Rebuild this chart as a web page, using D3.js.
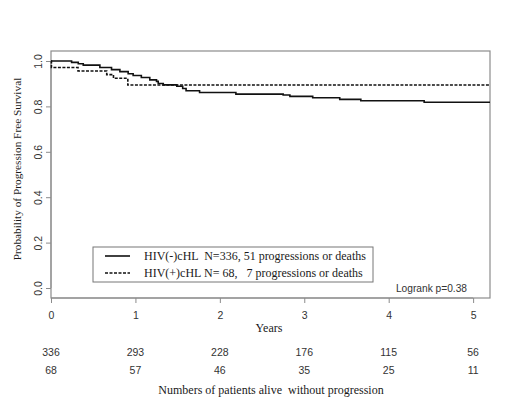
<!DOCTYPE html>
<html>
<head>
<meta charset="utf-8">
<script src="https://cdn.jsdelivr.net/npm/d3@7"></script>
<style>
  body { margin: 0; background: #fff; }
  .serif { font-family: "Liberation Serif", "Times New Roman", serif; fill: #1a1a1a; white-space: pre; }
  .sans { font-family: "Liberation Sans", Arial, sans-serif; fill: #333; }
</style>
</head>
<body>
<div id="chart"></div>
<script>
// Kaplan-Meier step points: [year, survival]
const hivNeg = [
  [0, 1.0], [0.244, 0.994], [0.323, 0.988], [0.382, 0.982], [0.579, 0.971],
  [0.717, 0.962], [0.816, 0.953], [0.914, 0.944], [0.973, 0.936], [1.07, 0.927],
  [1.17, 0.917], [1.25, 0.910], [1.27, 0.901], [1.33, 0.895], [1.49, 0.889],
  [1.56, 0.879], [1.60, 0.869], [1.76, 0.861], [2.19, 0.854], [2.75, 0.850],
  [2.83, 0.844], [3.10, 0.838], [3.42, 0.831], [3.67, 0.825], [4.42, 0.818]
];
const hivPos = [
  [0, 1.0], [0.005, 0.971], [0.32, 0.956], [0.66, 0.940], [0.74, 0.924], [0.91, 0.894]
];
const endYear = 5.2;

const xTicks = [0, 1, 2, 3, 4, 5];
const yTicks = [0, 0.2, 0.4, 0.6, 0.8, 1.0];
const atRiskNeg = [336, 293, 228, 176, 115, 56];
const atRiskPos = [68, 57, 46, 35, 25, 11];
const legendLabels = [
  "HIV(-)cHL  N=336, 51 progressions or deaths",
  "HIV(+)cHL N= 68,   7 progressions or deaths"
];

const width = 520, height = 404;
const svg = d3.select("#chart").append("svg")
  .attr("width", width).attr("height", height);

// plot region (R style box, 4% padding on y)
const plotL = 51, plotR = 490, plotT = 51, plotB = 298;
const x = d3.scaleLinear().domain([0, endYear]).range([plotL, plotR]);
const y = d3.scaleLinear().domain([-0.044, 1.044]).range([plotB, plotT]);

svg.append("rect")
  .attr("x", plotL).attr("y", plotT)
  .attr("width", plotR - plotL).attr("height", plotB - plotT)
  .attr("fill", "none").attr("stroke", "#8c8c8c").attr("stroke-width", 1.2);

// x axis
const xAxis = svg.append("g")
  .attr("transform", `translate(0,${plotB})`)
  .call(d3.axisBottom(x).tickValues(xTicks).tickFormat(d3.format("d")).tickSize(5).tickPadding(9));
xAxis.select(".domain").attr("stroke", "#8c8c8c").attr("d", `M${x(0)},0H${x(5)}`);
xAxis.selectAll(".tick line").attr("stroke", "#8c8c8c");
xAxis.selectAll("text").attr("class", "sans").attr("font-size", 10.5).attr("fill", "#333");

// y axis with rotated labels
const yAxis = svg.append("g")
  .attr("transform", `translate(${plotL},0)`)
  .call(d3.axisLeft(y).tickValues(yTicks).tickFormat(d3.format(".1f")).tickSize(5));
yAxis.select(".domain").attr("stroke", "#8c8c8c").attr("d", `M0,${y(0)}V${y(1)}`);
yAxis.selectAll(".tick line").attr("stroke", "#8c8c8c");
yAxis.selectAll("text")
  .attr("class", "sans").attr("font-size", 10.5).attr("fill", "#333")
  .attr("x", null).attr("dy", null)
  .attr("text-anchor", "middle")
  .attr("transform", "translate(-9,0) rotate(-90)");

// curves
const step = d3.line().x(d => x(d[0])).y(d => y(d[1])).curve(d3.curveStepAfter);
function withEnd(arr) { return arr.concat([[endYear, arr[arr.length - 1][1]]]); }

svg.append("path").datum(withEnd(hivPos))
  .attr("d", step).attr("fill", "none")
  .attr("stroke", "#111").attr("stroke-width", 1.6).attr("stroke-dasharray", "3,1.5");
svg.append("path").datum(withEnd(hivNeg))
  .attr("d", step).attr("fill", "none")
  .attr("stroke", "#111").attr("stroke-width", 1.6);

// legend
const lg = svg.append("g");
lg.append("rect").attr("x", 93).attr("y", 247).attr("width", 280).attr("height", 35)
  .attr("fill", "#fff").attr("stroke", "#777").attr("stroke-width", 1);
legendLabels.forEach((t, i) => {
  const yy = 256 + i * 17;
  lg.append("line").attr("x1", 105).attr("x2", 130).attr("y1", yy).attr("y2", yy)
    .attr("stroke", "#111").attr("stroke-width", 1.6)
    .attr("stroke-dasharray", i === 1 ? "3,1.5" : null);
  lg.append("text").attr("class", "serif").attr("x", 144).attr("y", yy + 4)
    .attr("font-size", 12).text(t);
});

svg.append("text").attr("class", "sans").attr("x", 467).attr("y", 292)
  .attr("text-anchor", "end").attr("font-size", 10.2).text("Logrank p=0.38");

// axis titles
svg.append("text").attr("class", "serif").attr("x", 269).attr("y", 332)
  .attr("text-anchor", "middle").attr("font-size", 12).text("Years");
svg.append("text").attr("class", "serif")
  .attr("transform", `translate(21,169) rotate(-90)`)
  .attr("text-anchor", "middle").attr("font-size", 11.3)
  .text("Probability of Progression Free Survival");

// numbers at risk
[atRiskNeg, atRiskPos].forEach((row, r) => {
  svg.append("g").selectAll("text").data(row).join("text")
    .attr("class", "sans")
    .attr("x", (d, i) => x(xTicks[i]))
    .attr("y", 356 + r * 18)
    .attr("text-anchor", "middle").attr("font-size", 10.5)
    .text(d => d);
});
svg.append("text").attr("class", "serif").attr("x", 271).attr("y", 394)
  .attr("text-anchor", "middle").attr("font-size", 12)
  .text("Numbers of patients alive  without progression");
</script>
</body>
</html>
